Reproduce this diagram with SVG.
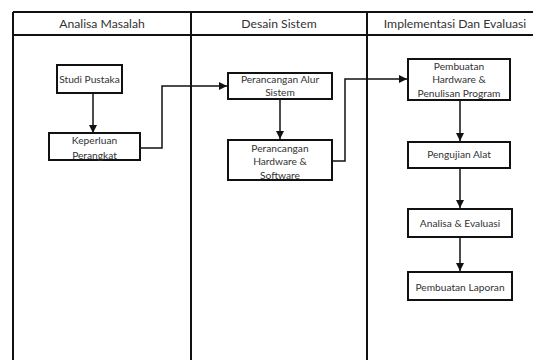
<svg xmlns="http://www.w3.org/2000/svg" width="533" height="360" viewBox="0 0 533 360">
  <style>
    .lane { stroke: #111; stroke-width: 2; fill: none; }
    .head { font-family: Lato, "Liberation Sans", sans-serif; font-size: 12.2px; fill: #333; text-anchor: middle; }
    .box { fill: #fff; stroke: #111; stroke-width: 2; }
    .lbl { font-family: Lato, "Liberation Sans", sans-serif; font-size: 10.2px; fill: #333; text-anchor: middle; }
    .edge { stroke: #111; stroke-width: 1.5; fill: none; marker-end: url(#arrow); }
  </style>
  <defs>
    <marker id="arrow" viewBox="0 0 10 10" refX="10" refY="5" markerWidth="8" markerHeight="8" markerUnits="userSpaceOnUse" orient="auto">
      <path d="M0,0 L10,5 L0,10 z" fill="#111"/>
    </marker>
  </defs>
  <rect width="533" height="360" fill="#fff"/>

  <!-- swimlane frame -->
  <g id="lanes">
    <path class="lane" d="M13,12 H540 M13,35 H540 M13,12 V362 M191,12 V362 M367,12 V362"/>
    <text class="head" x="102" y="27.5">Analisa Masalah</text>
    <text class="head" x="279" y="27.5">Desain Sistem</text>
    <text class="head" x="455" y="27.5">Implementasi Dan Evaluasi</text>
  </g>

  <!-- connectors -->
  <g id="connectors">
    <path class="edge" d="M93,93 V133"/>
    <path class="edge" d="M140,148 H162 V86 H227"/>
    <path class="edge" d="M280,99 V139"/>
    <path class="edge" d="M332,161 H345 V79 H407"/>
    <path class="edge" d="M460,100 V141"/>
    <path class="edge" d="M460,168 V208"/>
    <path class="edge" d="M460,237 V271"/>
  </g>

  <g id="studi-pustaka">
    <rect class="box" x="57" y="65" width="65" height="28"/>
    <text class="lbl" x="89.5" y="82.5">Studi Pustaka</text>
  </g>
  <g id="keperluan-perangkat">
    <rect class="box" x="49" y="133" width="91" height="27"/>
    <text class="lbl" x="94.5" y="144">Keperluan</text>
    <text class="lbl" x="94.5" y="158.5">Perangkat</text>
  </g>
  <g id="perancangan-alur">
    <rect class="box" x="228" y="73" width="104" height="26"/>
    <text class="lbl" x="280" y="82.5">Perancangan Alur</text>
    <text class="lbl" x="280" y="96">Sistem</text>
  </g>
  <g id="perancangan-hw-sw">
    <rect class="box" x="228" y="140" width="104" height="40"/>
    <text class="lbl" x="280" y="151.5">Perancangan</text>
    <text class="lbl" x="280" y="165">Hardware &amp;</text>
    <text class="lbl" x="280" y="178.5">Software</text>
  </g>
  <g id="pembuatan-hw">
    <rect class="box" x="408" y="59" width="102" height="41"/>
    <text class="lbl" x="459" y="69.5">Pembuatan</text>
    <text class="lbl" x="459" y="83">Hardware &amp;</text>
    <text class="lbl" x="459" y="96.5">Penulisan Program</text>
  </g>
  <g id="pengujian-alat">
    <rect class="box" x="408" y="142" width="102" height="26"/>
    <text class="lbl" x="459" y="158">Pengujian Alat</text>
  </g>
  <g id="analisa-evaluasi">
    <rect class="box" x="408" y="209" width="104" height="28"/>
    <text class="lbl" x="460" y="227">Analisa &amp; Evaluasi</text>
  </g>
  <g id="pembuatan-laporan">
    <rect class="box" x="408" y="272" width="104" height="28"/>
    <text class="lbl" x="460" y="290.5">Pembuatan Laporan</text>
  </g>
</svg>
